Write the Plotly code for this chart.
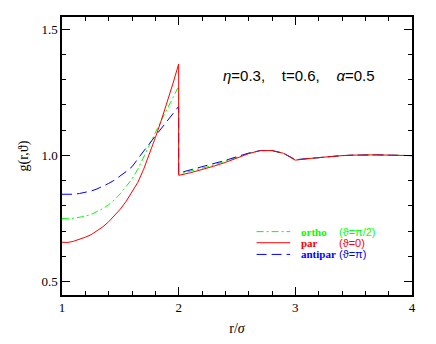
import plotly.graph_objects as go

# r/sigma grid: contact region (1..2) then beyond the jump at r=2
r_inner = [1.00, 1.05, 1.10, 1.15, 1.20, 1.25, 1.30, 1.35, 1.40, 1.45, 1.50,
           1.55, 1.60, 1.65, 1.70, 1.75, 1.80, 1.85, 1.90, 1.95, 2.00]
r_outer = [2.0, 2.1, 2.2, 2.3, 2.4, 2.5, 2.6, 2.7, 2.8, 2.9, 3.0,
           3.1, 3.2, 3.3, 3.4, 3.5, 3.6, 3.7, 3.8, 3.9, 4.0]

g_ortho_in = [0.750, 0.749, 0.751, 0.754, 0.759, 0.766, 0.776, 0.789, 0.805, 0.824, 0.848,
              0.876, 0.906, 0.945, 0.995, 1.045, 1.092, 1.138, 1.183, 1.228, 1.273]
g_par_in = [0.656, 0.655, 0.660, 0.667, 0.676, 0.686, 0.700, 0.717, 0.737, 0.760, 0.787,
            0.818, 0.853, 0.893, 0.945, 1.005, 1.070, 1.137, 1.207, 1.283, 1.362]
g_anti_in = [0.846, 0.845, 0.846, 0.849, 0.853, 0.859, 0.867, 0.877, 0.889, 0.902, 0.918,
             0.936, 0.955, 0.984, 1.017, 1.047, 1.076, 1.105, 1.135, 1.164, 1.194]

g_ortho_out = [0.926, 0.937, 0.949, 0.962, 0.976, 0.992, 1.008, 1.019, 1.019, 1.008, 0.982,
               0.987, 0.992, 0.996, 0.999, 1.001, 1.002, 1.002, 1.001, 1.000, 0.999]
g_par_out = [0.921, 0.931, 0.943, 0.957, 0.972, 0.989, 1.007, 1.019, 1.019, 1.008, 0.981,
             0.987, 0.992, 0.996, 0.999, 1.001, 1.002, 1.002, 1.001, 1.000, 0.999]
g_anti_out = [0.930, 0.942, 0.955, 0.967, 0.980, 0.995, 1.009, 1.019, 1.019, 1.008, 0.983,
              0.987, 0.992, 0.996, 0.999, 1.001, 1.002, 1.002, 1.001, 1.000, 0.999]

GREEN = "#00ff00"
RED = "#ff0000"
BLUE = "#0000ff"
GREEN_DASH = "7px,3px,2px,3px"
BLUE_DASH = "10px,5px"

r = r_inner + r_outer

fig = go.Figure()
fig.add_trace(go.Scatter(x=r, y=g_ortho_in + g_ortho_out, mode="lines",
                         line=dict(color=GREEN, width=1, dash=GREEN_DASH)))
fig.add_trace(go.Scatter(x=r, y=g_anti_in + g_anti_out, mode="lines",
                         line=dict(color=BLUE, width=1, dash=BLUE_DASH)))
fig.add_trace(go.Scatter(x=r, y=g_par_in + g_par_out, mode="lines",
                         line=dict(color=RED, width=1)))

# hand-made legend (tight rows like the original)
rows = [
    (0.228, GREEN, GREEN_DASH, "ortho", "(ϑ=π/2)"),
    (0.188, RED, "solid", "par", "(ϑ=0)"),
    (0.146, BLUE, BLUE_DASH, "antipar", "(ϑ=π)"),
]
for yy, col, dash, name, ang in rows:
    fig.add_shape(type="line", xref="paper", yref="paper", x0=0.556, x1=0.652,
                  y0=yy, y1=yy, line=dict(color=col, width=1, dash=dash))
    fig.add_annotation(xref="paper", yref="paper", x=0.677, y=yy, xanchor="left",
                       yanchor="middle", showarrow=False, text="<b>" + name + "</b>",
                       font=dict(family="Liberation Serif", size=11, color=col))
    fig.add_annotation(xref="paper", yref="paper", x=0.786, y=yy, xanchor="left",
                       yanchor="middle", showarrow=False, text=ang,
                       font=dict(family="Liberation Sans", size=11, color=col))

fig.add_annotation(xref="paper", yref="paper", x=0.455, y=0.789, xanchor="left",
                   yanchor="middle", showarrow=False,
                   text="<i>η</i>=0.3,    t=0.6,    <i>α</i>=0.5",
                   font=dict(family="Liberation Sans", size=15, color="black"))

axis_common = dict(showline=True, linecolor="black", linewidth=1.5, mirror="ticks",
                   ticks="inside", ticklen=8, tickwidth=1, tickcolor="black",
                   showgrid=False, zeroline=False,
                   tickfont=dict(family="Liberation Serif", size=13, color="black"))

fig.update_xaxes(range=[1, 4], dtick=1, tick0=1,
                 minor=dict(dtick=0.2, ticks="inside", ticklen=4, tickcolor="black"),
                 title=dict(text="r/<i>σ</i>", standoff=9,
                            font=dict(family="Liberation Serif", size=14, color="black")),
                 **axis_common)
fig.update_yaxes(range=[0.447, 1.548], dtick=0.5, tick0=0.5, tickformat=".1f",
                 minor=dict(dtick=0.1, ticks="inside", ticklen=4, tickcolor="black"),
                 title=dict(text="g(r,ϑ)", standoff=10,
                            font=dict(family="Liberation Serif", size=14, color="black")),
                 **axis_common)

# the page adds an 8px body margin, so the figure is 8px smaller and shifted
fig.update_layout(
    width=428, height=336,
    margin=dict(l=54, r=24, t=7, b=49),
    paper_bgcolor="white", plot_bgcolor="white",
    showlegend=False,
)

fig.write_html("out.html")
